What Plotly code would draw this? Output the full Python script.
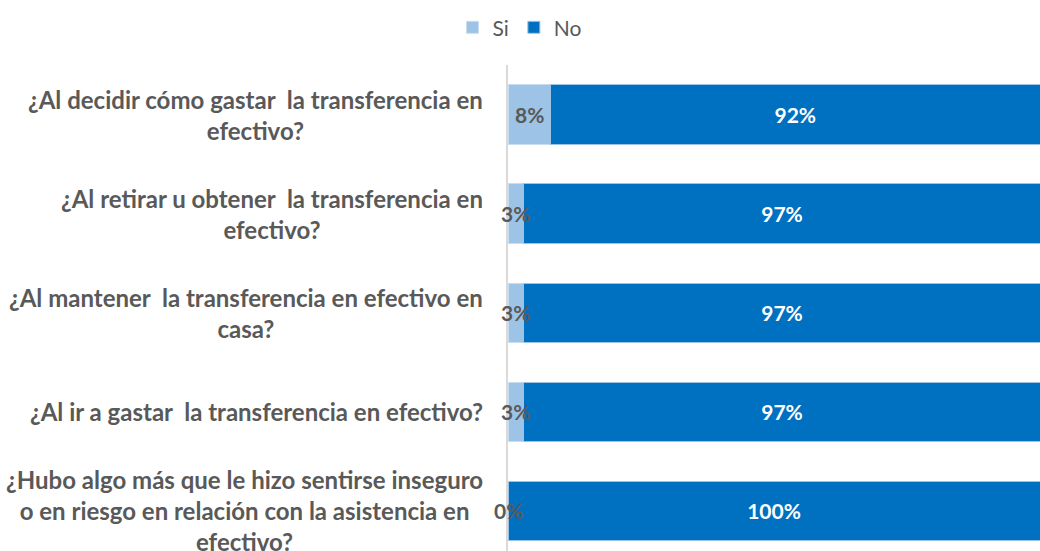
import plotly.graph_objects as go

categories = [
    "¿Al decidir cómo gastar  la transferencia en efectivo?",
    "¿Al retirar u obtener  la transferencia en efectivo?",
    "¿Al mantener  la transferencia en efectivo en casa?",
    "¿Al ir a gastar  la transferencia en efectivo?",
    "¿Hubo algo más que le hizo sentirse inseguro o en riesgo en relación con la asistencia en efectivo?",
]
label_lines = [
    ["¿Al decidir cómo gastar  la transferencia en", "efectivo?"],
    ["¿Al retirar u obtener  la transferencia en", "efectivo?"],
    ["¿Al mantener  la transferencia en efectivo en", "casa?"],
    ["¿Al ir a gastar  la transferencia en efectivo?"],
    ["¿Hubo algo más que le hizo sentirse inseguro", "o en riesgo en relación con la asistencia en", "efectivo?"],
]
si_values = [8, 3, 3, 3, 0]
no_values = [92, 97, 97, 97, 100]

GRAY = "#595959"
FONT = "Lato"

fig = go.Figure()
fig.add_trace(go.Bar(
    y=categories, x=si_values, name="Si", orientation="h",
    marker=dict(color="#9DC3E6", line=dict(color="#C9DDF0", width=1)),
    hoverinfo="skip",
))
fig.add_trace(go.Bar(
    y=categories, x=no_values, name="No", orientation="h",
    marker=dict(color="#0070C0", line=dict(color="#9DC3E6", width=1)),
    text=[f"{v}%" for v in no_values], textposition="inside",
    insidetextanchor="middle",
    textfont=dict(family=FONT, size=21, color="white", weight="bold"),
    hoverinfo="skip",
))

annotations = []
for cat, v in zip(categories, si_values):
    annotations.append(dict(
        x=v / 2, y=cat, xref="x", yref="y", text=f"{v}%", showarrow=False,
        font=dict(family=FONT, size=21, color=GRAY, weight="bold"),
        xanchor="center", yanchor="middle",
    ))

for cat, lines in zip(categories, label_lines):
    annotations.append(dict(
        x=0, y=cat, xref="paper", yref="y", text="<br>".join(lines), showarrow=False,
        xanchor="right", yanchor="middle", xshift=-23, align="center",
        font=dict(family=FONT, size=24, color=GRAY, weight="bold"),
    ))

fig.update_layout(
    width=1040, height=551, autosize=False,
    margin=dict(l=508, r=0, t=65, b=0),
    barmode="stack", bargap=0.4,
    plot_bgcolor="white", paper_bgcolor="white",
    font=dict(family=FONT, size=18, color=GRAY),
    legend=dict(orientation="h", x=0.5, xanchor="center", xref="container",
                y=0.987, yref="container", yanchor="top",
                font=dict(family=FONT, size=21, color=GRAY),
                itemwidth=30, traceorder="normal"),
    xaxis=dict(range=[0, 100], showgrid=False, showticklabels=False, zeroline=False,
               showline=False, fixedrange=True),
    yaxis=dict(categoryorder="array", categoryarray=categories,
               range=[4.404, -0.5], showticklabels=False, showgrid=False,
               showline=True, linecolor="#D9D9D9", linewidth=2, ticks="",
               zeroline=False),
    annotations=annotations,
    showlegend=True,
)

post = ("document.body.style.margin='0';document.body.style.overflow='hidden';"
        "var gd=document.getElementById('{plot_id}');"
        "Plotly.relayout(gd,{width:1040,height:551});")

fig.write_html("out.html", config={"responsive": False, "displayModeBar": False},
               post_script=post)
